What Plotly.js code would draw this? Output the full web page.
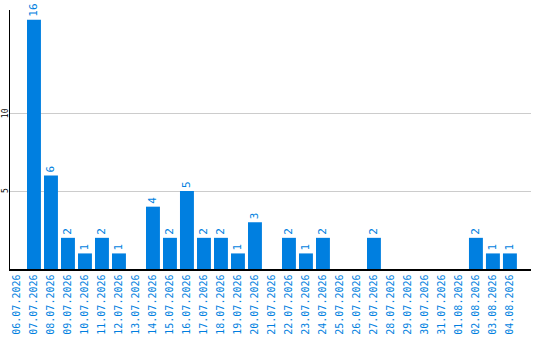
<!DOCTYPE html>
<html>
<head>
<meta charset="utf-8">
<script src="https://cdn.plot.ly/plotly-3.0.1.min.js"></script>
<style>
  html, body { margin: 0; padding: 0; background: #fff; }
  #chart { width: 540px; height: 340px; }
</style>
</head>
<body>
<div id="chart"></div>
<script>
// Daily counts, 06.07.2026 – 04.08.2026
const dates = [
  "06.07.2026", "07.07.2026", "08.07.2026", "09.07.2026", "10.07.2026",
  "11.07.2026", "12.07.2026", "13.07.2026", "14.07.2026", "15.07.2026",
  "16.07.2026", "17.07.2026", "18.07.2026", "19.07.2026", "20.07.2026",
  "21.07.2026", "22.07.2026", "23.07.2026", "24.07.2026", "25.07.2026",
  "26.07.2026", "27.07.2026", "28.07.2026", "29.07.2026", "30.07.2026",
  "31.07.2026", "01.08.2026", "02.08.2026", "03.08.2026", "04.08.2026"
];
const counts = [
  0, 16, 6, 2, 1,
  2, 1, 0, 4, 2,
  5, 2, 2, 1, 3,
  0, 2, 1, 2, 0,
  0, 2, 0, 0, 0,
  0, 0, 2, 1, 1
];
const yTicks = [5, 10];

const blue = "#007fe0";
const mono = "DejaVu Sans Mono, monospace";
const idx = dates.map((_, i) => i);

const trace = {
  type: "bar",
  x: idx,
  y: counts,
  marker: { color: blue, line: { width: 0 } },
  text: counts.map(v => (v ? String(v) : "")),
  textposition: "outside",
  textangle: -90,
  textfont: { family: mono, size: 11, color: blue },
  cliponaxis: false,
  hoverinfo: "none"
};

// y tick labels sit in the narrow left strip, rotated like the bars' labels
const yLabels = yTicks.map(v => ({
  xref: "paper", yref: "y",
  x: 0, y: v,
  xanchor: "center", yanchor: "middle",
  xshift: -5,
  text: String(v),
  textangle: -90,
  showarrow: false,
  borderpad: 0,
  font: { family: mono, size: 8, color: "#000000" }
}));

const layout = {
  width: 540,
  height: 340,
  margin: { l: 10, r: 9, t: 10, b: 71, pad: 0 },
  paper_bgcolor: "#ffffff",
  plot_bgcolor: "#ffffff",
  bargap: 0.18,
  showlegend: false,
  annotations: yLabels,
  xaxis: {
    range: [-0.41, 30.24],
    tickmode: "array",
    tickvals: idx,
    ticktext: dates,
    tickangle: -90,
    ticks: "",
    ticklen: 0,
    tickfont: { family: mono, size: 10, color: blue },
    showgrid: false,
    zeroline: false,
    showline: true,
    linecolor: "#000000",
    linewidth: 1.5,
    fixedrange: true
  },
  yaxis: {
    range: [0, 16.62],
    tickmode: "array",
    tickvals: yTicks,
    showticklabels: false,
    ticks: "",
    showgrid: true,
    gridcolor: "#cccccc",
    gridwidth: 1,
    zeroline: false,
    showline: true,
    linecolor: "#000000",
    linewidth: 1.5,
    fixedrange: true
  }
};

Plotly.newPlot("chart", [trace], layout, { displayModeBar: false, staticPlot: true });
</script>
</body>
</html>
